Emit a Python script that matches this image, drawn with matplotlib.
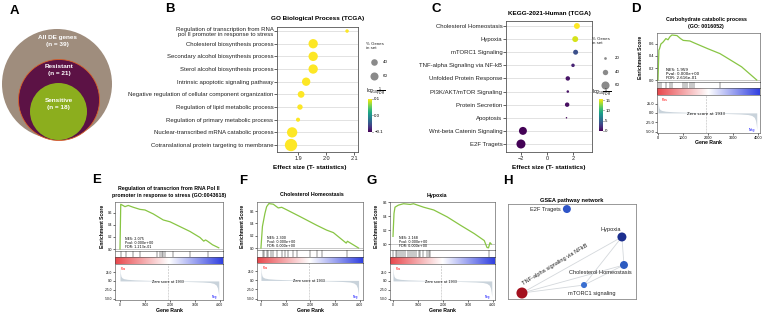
import numpy as np
import matplotlib
matplotlib.use('Agg')
import matplotlib.pyplot as plt
import matplotlib.transforms as mtransforms
from matplotlib.patches import Circle
from matplotlib.colors import Normalize, LinearSegmentedColormap
from matplotlib.cm import ScalarMappable

plt.rcParams['font.family'] = ['Liberation Sans', 'DejaVu Sans']
plt.rcParams['axes.linewidth'] = 0.5

W, H = 767, 319

# ---- A: nested DE gene sets
venn_names = ['All DE genes', 'Resistant', 'Sensitive']
venn_n = [39, 21, 18]

# ---- B: GO biological process (TCGA)
go_terms = ['Regulation of transcription from RNA\npol II promoter in response to stress',
            'Cholesterol biosynthesis process',
            'Secondary alcohol biosynthesis process',
            'Sterol alcohol biosynthesis process',
            'Intrinsic apoptotic signaling pathway',
            'Negative regulation of cellular component organization',
            'Regulation of lipid metabolic process',
            'Regulation of primary metabolic process',
            'Nuclear-transcribed mRNA catabolic process',
            'Cotranslational protein targeting to membrane']
go_effect = [2.075, 1.954, 1.954, 1.954, 1.929, 1.911, 1.907, 1.900, 1.879, 1.875]
go_pct = [5, 36, 36, 36, 29, 19, 12, 7, 44, 63]
go_logfdr = [0.1, 0.1, 0.1, 0.1, 0.1, 0.1, 0.1, 0.1, 0.1, 0.1]

# ---- C: KEGG-2021-Human (TCGA)
kegg_terms = ['Cholesterol Homeostasis', 'Hypoxia', 'mTORC1 Signaling',
              'TNF-alpha Signaling via NF-kB', 'Unfolded Protein Response',
              'PI3K/AKT/mTOR Signaling', 'Protein Secretion', 'Apoptosis',
              'Wnt-beta Catenin Signaling', 'E2F Tragets']
kegg_effect = [2.30, 2.17, 2.2, 2.0, 1.6, 1.6, 1.55, 1.5, -1.85, -2.0]
kegg_pct = [44, 44, 37, 26, 33, 19, 33, 11, 59, 67]
kegg_logfdr = [15.5, 14.5, 3.8, 1.5, 0.8, 0.8, 0.6, 0.3, 0.1, 0.1]

# ---- GSEA: ranked list metric (shared)
rank_x = [0, 15, 40, 80, 150, 300, 600, 1000, 1500, 1933, 2400, 2900, 3300, 3600, 3750, 3850, 3900, 3930, 3950]
rank_metric = [42, 22, 13, 9, 6.5, 4.5, 3, 2, 1, 0, -1, -2, -3, -4.5, -7, -12, -20, -32, -45]
zero_rank = 1933

# D: Carbohydrate catabolic process
carb_rank = [0, 36, 60, 116, 200, 316, 400, 476, 556, 760, 900, 1009, 1276, 1436, 2000, 2476, 2676, 3343, 3950]
carb_es = [0, 0.50, 0.52, 0.60, 0.63, 0.69, 0.67, 0.72, 0.75, 0.74, 0.69, 0.66, 0.65, 0.62, 0.52, 0.44, 0.39, 0.22, 0.0]
carb_hits = [36, 116, 316, 476, 556, 1009, 1063, 1143, 1276, 1356, 1436, 2476]

# E: Regulation of transcription from RNA Pol II promoter in response to stress
stress_rank = [0, 30, 200, 330, 530, 800, 1000, 1330, 1730, 2000, 2400, 2800, 3200, 3350, 3420, 3500, 3700, 3950]
stress_es = [0, 0.74, 0.70, 0.72, 0.69, 0.655, 0.645, 0.58, 0.48, 0.45, 0.37, 0.29, 0.19, 0.13, 0.15, 0.13, 0.07, 0.02]
stress_hits = [40, 240, 533, 800, 1467, 1600, 1667, 1733, 1800, 2133, 2800, 3530]

# F: Cholesterol Homeostasis
chol_rank = [0, 60, 160, 230, 320, 500, 700, 840, 1040, 1580, 2250, 2660, 2930, 3450, 3500, 3950]
chol_es = [0, 0.35, 0.56, 0.67, 0.72, 0.71, 0.65, 0.66, 0.62, 0.51, 0.37, 0.29, 0.25, 0.08, 0.11, 0.0]
chol_hits = [68, 122, 230, 297, 392, 500, 635, 837, 972, 1107, 1310, 1445, 1985, 2255, 2457, 3470]

# G: Hypoxia
hyp_rank = [0, 40, 80, 215, 420, 690, 820, 1225, 1630, 2170, 2700, 3250, 3650, 3760, 3820, 3880, 3930]
hyp_es = [0.11, 0.44, 0.53, 0.56, 0.58, 0.57, 0.58, 0.53, 0.49, 0.39, 0.27, 0.15, 0.05, -0.05, -0.055, 0.02, 0.0]
hyp_hits = [13, 108, 175, 256, 323, 418, 485, 580, 660, 754, 822, 929, 1023, 1091, 1200, 1360, 1428, 1495, 3852]

# ---- H: GSEA pathway network
net_names = ['E2F Tragets', 'Hypoxia', 'Cholesterol Homeostasis', 'mTORC1 signaling',
             'TNF-alpha signaling via NFkB']
net_x = [0.46, 0.89, 0.906, 0.594, 0.109]
net_y = [0.947, 0.653, 0.358, 0.147, 0.063]
net_size = [33, 42, 33, 19, 63]
net_color = ['#2f55c8', '#1c2f8f', '#2d5bc0', '#3a6fd0', '#a3101e']
net_edges = [(1, 2), (1, 3), (1, 4), (2, 3), (2, 4), (3, 4)]


fig = plt.figure(figsize=(W / 100, H / 100), dpi=100)


def px_axes(x0, y0, x1, y1, **kw):
    return fig.add_axes([x0 / W, 1 - y1 / H, (x1 - x0) / W, (y1 - y0) / H], **kw)


ov = fig.add_axes([0, 0, 1, 1], zorder=5)
ov.set_xlim(0, W)
ov.set_ylim(H, 0)
ov.axis('off')

for lab, (x, y) in zip('ABCDEFGH', [(14, 11), (170, 9), (436, 9), (636, 9),
                                     (97, 180), (243, 181), (372, 181), (508, 181)]):
    ov.text(x, y, lab, fontsize=9.5, fontweight='bold', ha='center', va='center')

# ---- A
venn_geom = [(57, 84, 55), (59, 100, 40.5), (58.5, 111.5, 28.5)]
venn_fill = ['#9f8d7d', '#5c1245', '#8cae1e']
venn_edge = ['none', '#d9612a', 'none']
venn_text_y = [41, 70, 104]
for (cx, cy, r), fc, ec, name, n, ty in zip(venn_geom, venn_fill, venn_edge, venn_names, venn_n, venn_text_y):
    ov.add_patch(Circle((cx, cy), r, facecolor=fc, edgecolor=ec, lw=0.6))
    ov.text(cx, ty, f'{name}\n(n = {n})', color='white', fontsize=4.6, fontweight='bold',
            ha='center', va='center', linespacing=1.5)


def style_dotplot(ax):
    ax.grid(axis='y', color='#dddddd', lw=0.6)
    ax.set_axisbelow(True)
    for s in ax.spines.values():
        s.set_color('#555555')
        s.set_linewidth(0.6)
    ax.tick_params(axis='y', length=2, width=0.5, pad=0.6, labelsize=4.3, colors='#222222')
    ax.tick_params(axis='x', length=2, width=0.5, pad=1, labelsize=4.0, colors='#222222')


# ---- B
axB = px_axes(277, 27, 358, 152)
yb = np.arange(len(go_terms))[::-1]
axB.scatter(go_effect, yb, s=np.array(go_pct) * 1.25, c=go_logfdr, cmap='viridis',
            vmin=-0.1, vmax=0.1, linewidths=0, zorder=3)
axB.set_yticks(yb)
axB.set_yticklabels(go_terms)
axB.set_xlim(1.825, 2.114)
axB.set_ylim(-0.55, 9.32)
axB.set_xticks([1.9, 2.0, 2.1])
style_dotplot(axB)
axB.set_title('GO Biological Process (TCGA)', fontsize=4.6, fontweight='bold', pad=5)
ov.text(310, 167, 'Effect size (T- statistics)', fontsize=4.6, fontweight='bold', ha='center', va='center')

ov.text(366, 46, '% Genes\nin set', fontsize=3.2, va='center', linespacing=1.0, color='#222222')
for pct, y in zip([40, 60], [62, 76]):
    ov.scatter(374, y, s=pct * 0.56, color='#8a8a8a', linewidths=0)
    ov.text(383, y, str(pct), fontsize=3.2, va='center')
caxB = px_axes(368, 99, 371.5, 132)
cbB = fig.colorbar(ScalarMappable(Normalize(-0.1, 0.1), 'viridis'), cax=caxB, ticks=[-0.1, 0, 0.1])
cbB.outline.set_visible(False)
cbB.ax.tick_params(labelsize=3.2, length=1, width=0.4, pad=1)
cbB.ax.set_yticklabels(['\u22120.1', '0.0', '0.1'])
ov.text(366, 91, r'log$_{10}\frac{1}{FDR}$', fontsize=3.4, va='center')

# ---- C
axC = px_axes(506, 21, 592, 152)
yc = np.arange(len(kegg_terms))[::-1]
axC.scatter(kegg_effect, yc, s=(np.array(kegg_pct) * 0.097) ** 2, c=kegg_logfdr, cmap='viridis',
            vmin=0, vmax=15.5, linewidths=0, zorder=3)
axC.set_yticks(yc)
axC.set_yticklabels(kegg_terms)
axC.set_xlim(-3.15, 3.46)
axC.set_ylim(-0.61, 9.38)
axC.set_xticks([-2, 0, 2])
style_dotplot(axC)
axC.set_title('KEGG-2021-Human (TCGA)', fontsize=4.6, fontweight='bold', pad=4.5)
ov.text(549, 167, 'Effect size (T- statistics)', fontsize=4.6, fontweight='bold', ha='center', va='center')

ov.text(592, 41, '% Genes\nin set', fontsize=3.2, va='center', linespacing=1.0, color='#222222')
for pct, y in zip([20, 40, 60], [58, 72, 85]):
    ov.scatter(605, y, s=(pct * 0.097) ** 2, color='#8a8a8a', linewidths=0)
    ov.text(615, y, str(pct), fontsize=3.2, va='center')
caxC = px_axes(599, 99, 602.5, 131)
cbC = fig.colorbar(ScalarMappable(Normalize(0, 15.5), 'viridis'), cax=caxC, ticks=[0, 5, 10, 15])
cbC.outline.set_visible(False)
cbC.ax.tick_params(labelsize=3.2, length=1, width=0.4, pad=1)
ov.text(592, 92, r'log$_{10}\frac{1}{FDR}$', fontsize=3.4, va='center')

# ---- GSEA panels
grad_cmap = LinearSegmentedColormap.from_list('grad', ['#e8474c', '#ffffff', '#3140e0'])


def gsea_panel(box, xlim, es_ylim, ranks, es, hits, stats, fs):
    x0, x1, y0, y1, y2, y3, y4 = box
    ax_es = px_axes(x0, y0, x1, y1)
    ax_hit = px_axes(x0, y1, x1, y2)
    ax_bar = px_axes(x0, y2, x1, y3)
    ax_rk = px_axes(x0, y3, x1, y4)
    for a in (ax_es, ax_hit, ax_bar, ax_rk):
        for s in a.spines.values():
            s.set_linewidth(0.4)
            s.set_color('#444444')
    ax_es.axhline(0, color='#b0b0b0', lw=0.5)
    ax_es.plot(ranks, es, color='#88C544', lw=0.9)
    ax_es.set_xlim(xlim)
    ax_es.set_ylim(es_ylim)
    ax_es.set_xticks([])
    ax_es.set_yticks([0, 0.2, 0.4, 0.6])
    ax_es.set_yticklabels(['0.0', '0.2', '0.4', '0.6'])
    ax_es.tick_params(length=1.2, width=0.4, pad=0.8, labelsize=2.8 * fs)
    ax_es.text(0.09, 0.04, stats, transform=ax_es.transAxes, fontsize=2.9 * fs,
               family='DejaVu Sans', linespacing=1.0, va='bottom')

    ax_hit.vlines(hits, 0, 1, color='#222222', lw=0.35)
    ax_hit.set_xlim(xlim)
    ax_hit.set_ylim(0, 1)
    ax_hit.set_xticks([])
    ax_hit.set_yticks([])

    ax_bar.imshow(np.linspace(0, 1, 256)[None, :], aspect='auto', cmap=grad_cmap,
                  extent=[xlim[0], xlim[1], 0, 1])
    ax_bar.set_xticks([])
    ax_bar.set_yticks([])

    ax_rk.fill_between(rank_x, rank_metric, 0, color='#C9D3DB', lw=0)
    ax_rk.set_xlim(xlim)
    ax_rk.set_ylim(-54, 48)
    ax_rk.set_yticks([25, 0, -25, -50])
    ax_rk.set_yticklabels(['25.0', '0.0', '-25.0', '-50.0'])
    ax_rk.set_xticks([0, 1000, 2000, 3000, 4000])
    ax_rk.tick_params(length=1.2, width=0.4, pad=0.8, labelsize=2.8 * fs)
    ax_rk.axvline(zero_rank, color='#b8b8b8', lw=0.4, ls='--')
    tr = mtransforms.blended_transform_factory(ax_rk.transData, ax_rk.transAxes)
    ax_rk.text(zero_rank, 0.5, f'Zero score at {zero_rank}', transform=tr, ha='center',
               va='center', fontsize=2.9 * fs, family='DejaVu Sans')
    ax_rk.text(0.05, 0.86, 'Pos', color='red', transform=ax_rk.transAxes, fontsize=2.5 * fs,
               va='center')
    ax_rk.text(0.95, 0.07, 'Neg', color='blue', transform=ax_rk.transAxes, fontsize=2.5 * fs,
               ha='right', va='center')
    return ax_es, ax_rk


gsea_specs = [
    ((657, 760, 33, 82, 88, 95, 133), (-40, 4080), (-0.033, 0.783), carb_rank, carb_es, carb_hits,
     'NES: 1.959\nPval: 0.000e+00\nFDR: 2.616e-01', 1.0,
     'Carbohydrate catabolic process\n(GO: 0016052)', (706, 23), (640, 57), (708, 142)),
    ((115, 223, 202, 251, 257, 264, 300), (-200, 4120), (-0.033, 0.777), stress_rank, stress_es, stress_hits,
     'NES: 2.075\nPval: 0.000e+00\nFDR: 1.213e-01', 0.85,
     'Regulation of transcrion from RNA Pol II\npromoter in response to stress (GO:0043618)', (169, 192),
     (102, 226), (169, 311)),
    ((257, 363, 202, 250, 257, 263, 300), (-160, 4130), (-0.032, 0.746), chol_rank, chol_es, chol_hits,
     'NES: 2.300\nPval: 0.000e+00\nFDR: 0.000e+00', 0.85,
     'Cholesterol Homeostasis', (312, 195), (243, 226), (310, 310)),
    ((390, 495, 202, 250, 257, 264, 300), (-120, 4080), (-0.086, 0.605), hyp_rank, hyp_es, hyp_hits,
     'NES: 2.168\nPval: 0.000e+00\nFDR: 0.000e+00', 0.85,
     'Hypoxia', (437, 195), (376, 226), (442, 310)),
]

for box, xlim, eylim, rk, es, hits, stats, fs, title, tpos, ylpos, xlpos in gsea_specs:
    gsea_panel(box, xlim, eylim, rk, es, hits, stats, fs)
    ov.text(tpos[0], tpos[1], title, fontsize=3.8, fontweight='bold', ha='center', va='center',
            linespacing=1.3)
    ov.text(ylpos[0], ylpos[1], 'Enrichment Score', fontsize=3.6, fontweight='bold', rotation=90,
            ha='center', va='center')
    ov.text(xlpos[0], xlpos[1], 'Gene Rank', fontsize=3.7, fontweight='bold', ha='center', va='center')

# ---- H
axH = px_axes(508, 204, 636, 299)
axH.set_xlim(0, 1)
axH.set_ylim(0, 1)
axH.set_xticks([])
axH.set_yticks([])
for s in axH.spines.values():
    s.set_color('#888888')
    s.set_linewidth(0.6)
for i, j in net_edges:
    axH.plot([net_x[i], net_x[j]], [net_y[i], net_y[j]], color='#d4d8dc', lw=0.6, zorder=1)
axH.scatter(net_x, net_y, s=net_size, c=net_color, linewidths=0, zorder=3)
axH.set_title('GSEA pathway network', fontsize=4.1, fontweight='bold', pad=1.5)
label_specs = [
    (-0.045, 0.0, 'right', 'center', 0),
    (-0.085, 0.075, 'center', 'center', 0),
    (0.06, -0.075, 'right', 'center', 0),
    (0.062, -0.085, 'center', 'center', 0),
    (0.015, 0.07, 'left', 'bottom', 31),
]
for name, x, y, (dx, dy, ha, va, rot) in zip(net_names, net_x, net_y, label_specs):
    axH.text(x + dx, y + dy, name, fontsize=4.1, ha=ha, va=va, rotation=rot,
             rotation_mode='anchor', color='#222222', zorder=4)

fig.savefig('out.png', dpi=100)
